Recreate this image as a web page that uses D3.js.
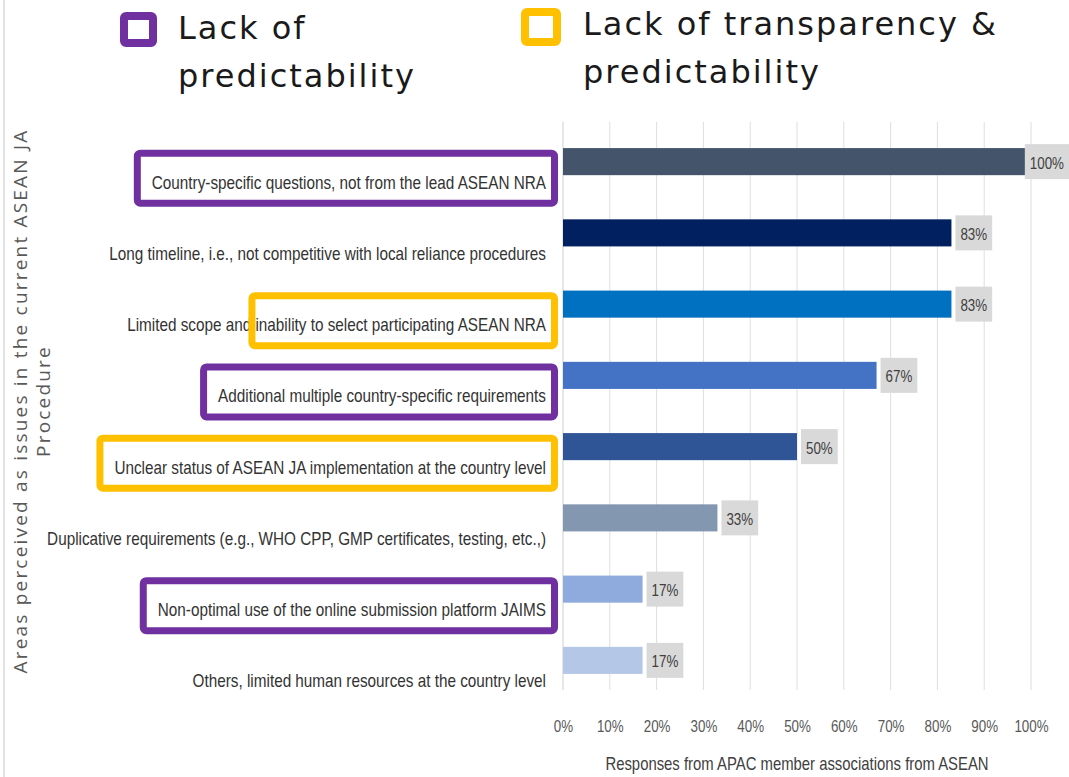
<!DOCTYPE html>
<html>
<head>
<meta charset="utf-8">
<script src="https://cdn.jsdelivr.net/npm/d3@7"></script>
<style>
  html, body { margin: 0; padding: 0; background: #ffffff; }
  svg { display: block; }
</style>
</head>
<body>
<svg id="chart" width="1069" height="777"></svg>
<script>
// Issues with the current ASEAN JA procedure, share of responding associations (%)
const categories = [
  "Country-specific questions, not from the lead ASEAN NRA",
  "Long timeline, i.e., not competitive with local reliance procedures",
  "Limited scope and inability to select participating ASEAN NRA",
  "Additional multiple country-specific requirements",
  "Unclear status of ASEAN JA implementation at the country level",
  "Duplicative requirements (e.g., WHO CPP, GMP certificates, testing, etc.,)",
  "Non-optimal use of the online submission platform JAIMS",
  "Others, limited human resources at the country level"
];
const responses = [100, 83, 83, 67, 50, 33, 17, 17];

// Which issue group each row is flagged as, and where the flag frame begins in the label
const flagGroup = ["predictability", null, "transparency", "predictability", "transparency", null, "predictability", null];
const flagFrom = [null, null, "inability", null, null, null, null, null];

const xTicks = [0, 10, 20, 30, 40, 50, 60, 70, 80, 90, 100];
const legendItems = [
  { key: "predictability", lines: ["Lack of", "predictability"] },
  { key: "transparency", lines: ["Lack of transparency &", "predictability"] }
];
const yTitleLines = ["Areas perceived as issues in the current ASEAN JA", "Procedure"];
const xTitle = "Responses from APAC member associations from ASEAN";

const barColors = ["#44546A", "#002060", "#0070C0", "#4472C4", "#2F5597", "#8497B0", "#8FAADC", "#B4C7E7"];
const flagColors = { predictability: "#7030A0", transparency: "#FFC000" };

const W = 1069, H = 777;
const svg = d3.select("#chart");
const labelFont = "'Liberation Sans', Arial, sans-serif";
const narrow = 0.85; // horizontal squeeze giving the condensed label face

const x = d3.scaleLinear().domain([0, 100]).range([563, 1031]);
const y = d3.scaleBand().domain(categories).range([126, 696]).paddingInner(0.62).paddingOuter(0.31);

// page edge
svg.append("line").attr("x1", 4).attr("x2", 4).attr("y1", 0).attr("y2", H)
  .attr("stroke", "#e3e3e3").attr("stroke-width", 2);

// vertical gridlines
svg.append("g").selectAll("line").data(xTicks).join("line")
  .attr("x1", d => x(d)).attr("x2", d => x(d))
  .attr("y1", 122).attr("y2", 690)
  .attr("stroke", d => d === 0 ? "#cfcfcf" : "#dedede").attr("stroke-width", 1);

// x axis tick labels
const xAxis = d3.axisBottom(x).tickValues(xTicks).tickFormat(d => d + "%").tickSize(0).tickPadding(0);
const gx = svg.append("g").attr("transform", "translate(0,720)").call(xAxis);
gx.select(".domain").remove();
gx.selectAll("text").attr("font-family", labelFont).attr("font-size", 16.5).attr("fill", "#595959")
  .attr("transform", `scale(${narrow - 0.04},1)`);

svg.append("g").attr("transform", `translate(797,770) scale(${narrow},1)`)
  .append("text").attr("text-anchor", "middle")
  .attr("font-family", labelFont).attr("font-size", 17.5).attr("fill", "#404040").text(xTitle);

// bars
svg.append("g").selectAll("rect").data(categories).join("rect")
  .attr("x", x(0)).attr("y", d => y(d))
  .attr("width", (d, i) => x(responses[i]) - x(0))
  .attr("height", y.bandwidth())
  .attr("fill", (d, i) => barColors[i]);

// value labels on grey tags; kept inside the page at the right edge
const tags = svg.append("g").selectAll("g").data(categories).join("g");
tags.each(function (d, i) {
  const g = d3.select(this);
  const cy = y(d) + y.bandwidth() / 2;
  const rect = g.append("rect").attr("fill", "#d9d9d9");
  const tg = g.append("g");
  const t = tg.append("text").attr("font-family", labelFont).attr("font-size", 16.5)
    .attr("fill", "#404040").attr("dominant-baseline", "central")
    .text(responses[i] + "%");
  const tw = t.node().getComputedTextLength() * (narrow - 0.04);
  const bw = tw + 10, bh = 35;
  let bx = x(responses[i]) + 4;
  if (bx + bw > W) bx = W - bw;
  rect.attr("x", bx).attr("y", cy - bh / 2).attr("width", bw).attr("height", bh);
  tg.attr("transform", `translate(${bx + 5},${cy + 1}) scale(${narrow - 0.04},1)`);
});

// category labels, with coloured frames around flagged issues
const labelRight = 546, labelDrop = 21;
const labels = svg.append("g");
categories.forEach((c, i) => {
  const ty = y(c) + y.bandwidth() / 2 + labelDrop;
  const group = flagGroup[i];
  const frame = group ? labels.append("rect") : null;
  const t = labels.append("g").attr("transform", `translate(${labelRight},${ty}) scale(${narrow},1)`)
    .append("text").attr("text-anchor", "end").attr("dominant-baseline", "central")
    .attr("font-family", labelFont).attr("font-size", 18).attr("fill", "#333333").text(c);
  if (!group) return;
  const full = t.node().getComputedTextLength() * narrow;
  let left = labelRight - full - 18;
  if (flagFrom[i]) {
    const idx = c.indexOf(flagFrom[i]);
    const rest = t.node().getSubStringLength(idx, c.length - idx) * narrow;
    left = labelRight - rest - 7;
  }
  const sw = 7;
  frame.attr("x", left + sw / 2).attr("y", ty - 33 + sw / 2)
    .attr("width", 558 - left - sw).attr("height", 57 - sw)
    .attr("rx", 3).attr("fill", "none")
    .attr("stroke", flagColors[group]).attr("stroke-width", sw);
  // the frame is drawn over the label text
  labels.node().appendChild(frame.node());
});

// y axis title, two rotated lines
const yt = svg.append("text").attr("transform", "translate(0,401) rotate(-90)")
  .attr("text-anchor", "middle").attr("font-family", "'Open Sans', sans-serif")
  .attr("font-size", 19).attr("fill", "#595959").attr("letter-spacing", 2.2);
yTitleLines.forEach((s, k) => {
  yt.append("tspan").attr("x", 0).attr("y", 27 + k * 23).text(s);
});

// legend
const legendPos = [{ bx: 120, by: 12, bs: 37, tx: 178, ty: 39 }, { bx: 521, by: 8, bs: 40, tx: 583, ty: 35 }];
legendItems.forEach((item, k) => {
  const p = legendPos[k];
  svg.append("rect").attr("x", p.bx + 4).attr("y", p.by + 4)
    .attr("width", p.bs - 8).attr("height", p.bs - 10).attr("rx", 2)
    .attr("fill", "#ffffff").attr("stroke", flagColors[item.key]).attr("stroke-width", 8);
  const lt = svg.append("text").attr("font-family", "'DejaVu Sans', sans-serif")
    .attr("font-size", 32).attr("letter-spacing", 2).attr("fill", "#1a1a1a");
  item.lines.forEach((s, j) => {
    lt.append("tspan").attr("x", p.tx).attr("y", p.ty + j * 48).text(s);
  });
});
</script>
</body>
</html>
